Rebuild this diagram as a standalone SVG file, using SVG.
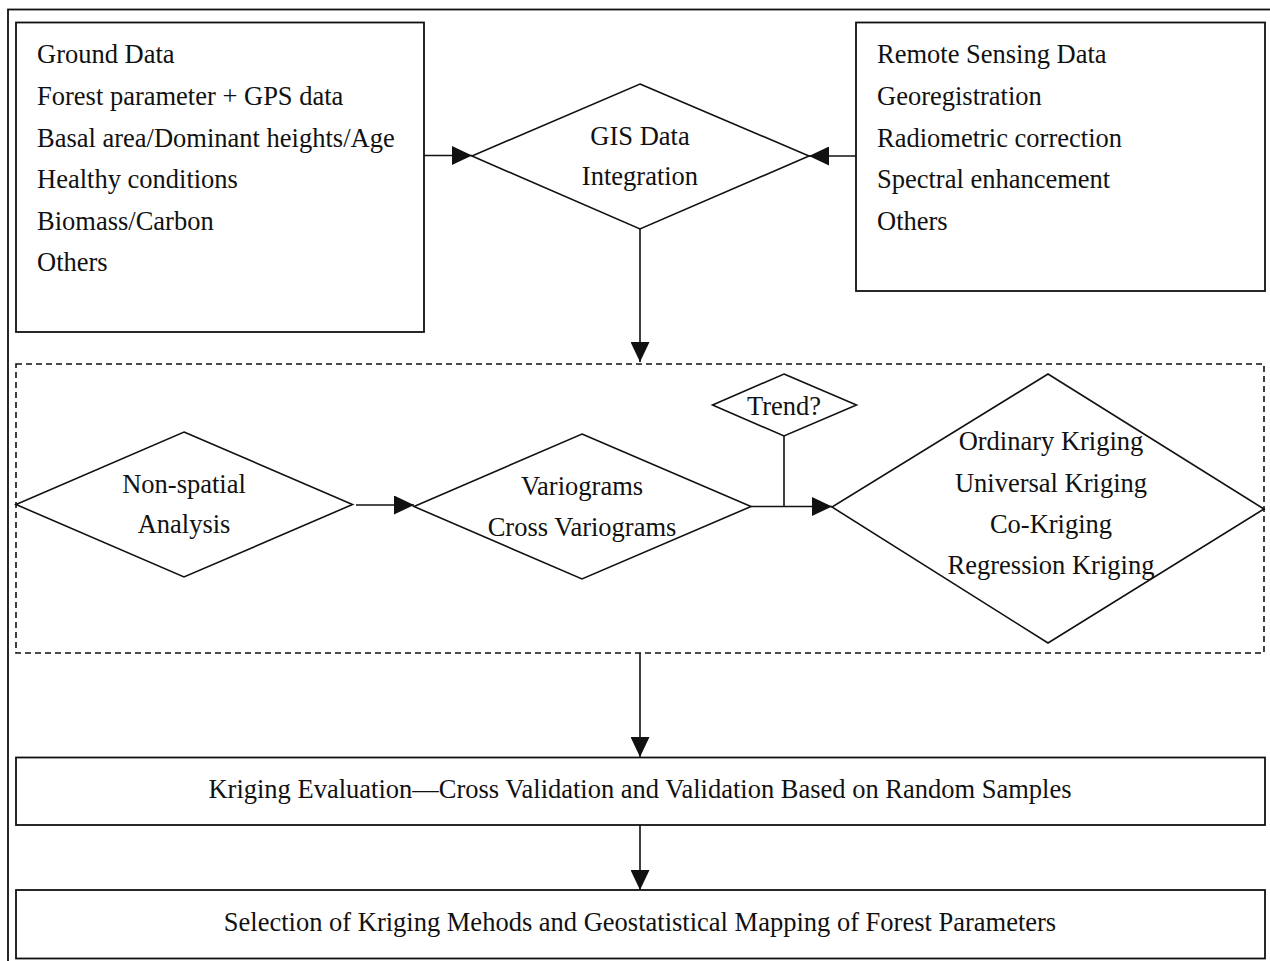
<svg xmlns="http://www.w3.org/2000/svg" width="1270" height="961" viewBox="0 0 1270 961">
<style>
text{font-family:"Liberation Serif","Times New Roman",serif;font-size:26.5px;fill:#111}
.c{text-anchor:middle}
.box{fill:#fff;stroke:#111;stroke-width:1.8}
.dia{fill:#fff;stroke:#111;stroke-width:1.6}
.dash{fill:none;stroke:#111;stroke-width:1.6;stroke-dasharray:6 4}
.ln{fill:none;stroke:#111;stroke-width:1.6}
</style>
<defs>
<marker id="ah" markerUnits="userSpaceOnUse" markerWidth="20" markerHeight="19" refX="20" refY="9.5" orient="auto">
<path d="M0,0 L20,9.5 L0,19 z" fill="#111"/>
</marker>
</defs>
<rect x="0" y="0" width="1270" height="961" fill="#fff"/>
<rect id="frame" x="8" y="9.5" width="1270" height="960" fill="none" stroke="#111" stroke-width="1.8"/>
<rect id="analysis-group" class="dash" x="16" y="364" width="1248" height="289"/>

<g id="connectors">
<line class="ln" x1="424" y1="155.5" x2="472" y2="155.5" marker-end="url(#ah)"/>
<line class="ln" x1="856" y1="156" x2="809" y2="156" marker-end="url(#ah)"/>
<line class="ln" x1="640" y1="229" x2="640" y2="362" marker-end="url(#ah)"/>
<line class="ln" x1="356" y1="505" x2="414" y2="505" marker-end="url(#ah)"/>
<line class="ln" x1="751" y1="506.5" x2="832" y2="506.5" marker-end="url(#ah)"/>
<line class="ln" x1="784" y1="436" x2="784" y2="506.5"/>
<line class="ln" x1="640" y1="653" x2="640" y2="757" marker-end="url(#ah)"/>
<line class="ln" x1="640" y1="825" x2="640" y2="890" marker-end="url(#ah)"/>
</g>

<g id="ground-data">
<rect class="box" x="16" y="22.5" width="408" height="309.5"/>
<text x="37" y="63">Ground Data</text>
<text x="37" y="105">Forest parameter + GPS data</text>
<text x="37" y="147">Basal area/Dominant heights/Age</text>
<text x="37" y="188">Healthy conditions</text>
<text x="37" y="230">Biomass/Carbon</text>
<text x="37" y="271">Others</text>
</g>

<g id="remote-sensing">
<rect class="box" x="856" y="22.5" width="409" height="268.5"/>
<text x="877" y="63">Remote Sensing Data</text>
<text x="877" y="105">Georegistration</text>
<text x="877" y="147">Radiometric correction</text>
<text x="877" y="188">Spectral enhancement</text>
<text x="877" y="230">Others</text>
</g>

<g id="gis">
<polygon class="dia" points="640,84 809,156 640,229 472,156"/>
<text class="c" x="640" y="145">GIS Data</text>
<text class="c" x="640" y="185">Integration</text>
</g>

<g id="non-spatial">
<polygon class="dia" points="184,432 352.5,504.5 184,577 16,504.5"/>
<text class="c" x="184" y="493">Non-spatial</text>
<text class="c" x="184" y="533">Analysis</text>
</g>

<g id="variograms">
<polygon class="dia" points="582,434 751,506.5 582,579 414,506.5"/>
<text class="c" x="582" y="495">Variograms</text>
<text class="c" x="582" y="536">Cross Variograms</text>
</g>

<g id="trend">
<polygon class="dia" points="784,374 856.5,405 784,436 712.5,405"/>
<text class="c" x="784" y="415">Trend?</text>
</g>

<g id="kriging">
<polygon class="dia" points="1048,374 1264,509 1048,643 832,507"/>
<text class="c" x="1051" y="450">Ordinary Kriging</text>
<text class="c" x="1051" y="492">Universal Kriging</text>
<text class="c" x="1051" y="533">Co-Kriging</text>
<text class="c" x="1051" y="574">Regression Kriging</text>
</g>

<g id="evaluation">
<rect class="box" x="16" y="757.5" width="1249" height="67.5"/>
<text class="c" x="640" y="798">Kriging Evaluation—Cross Validation and Validation Based on Random Samples</text>
</g>

<g id="selection">
<rect class="box" x="16" y="890" width="1249" height="68.5"/>
<text class="c" x="640" y="931">Selection of Kriging Mehods and Geostatistical Mapping of Forest Parameters</text>
</g>
</svg>
